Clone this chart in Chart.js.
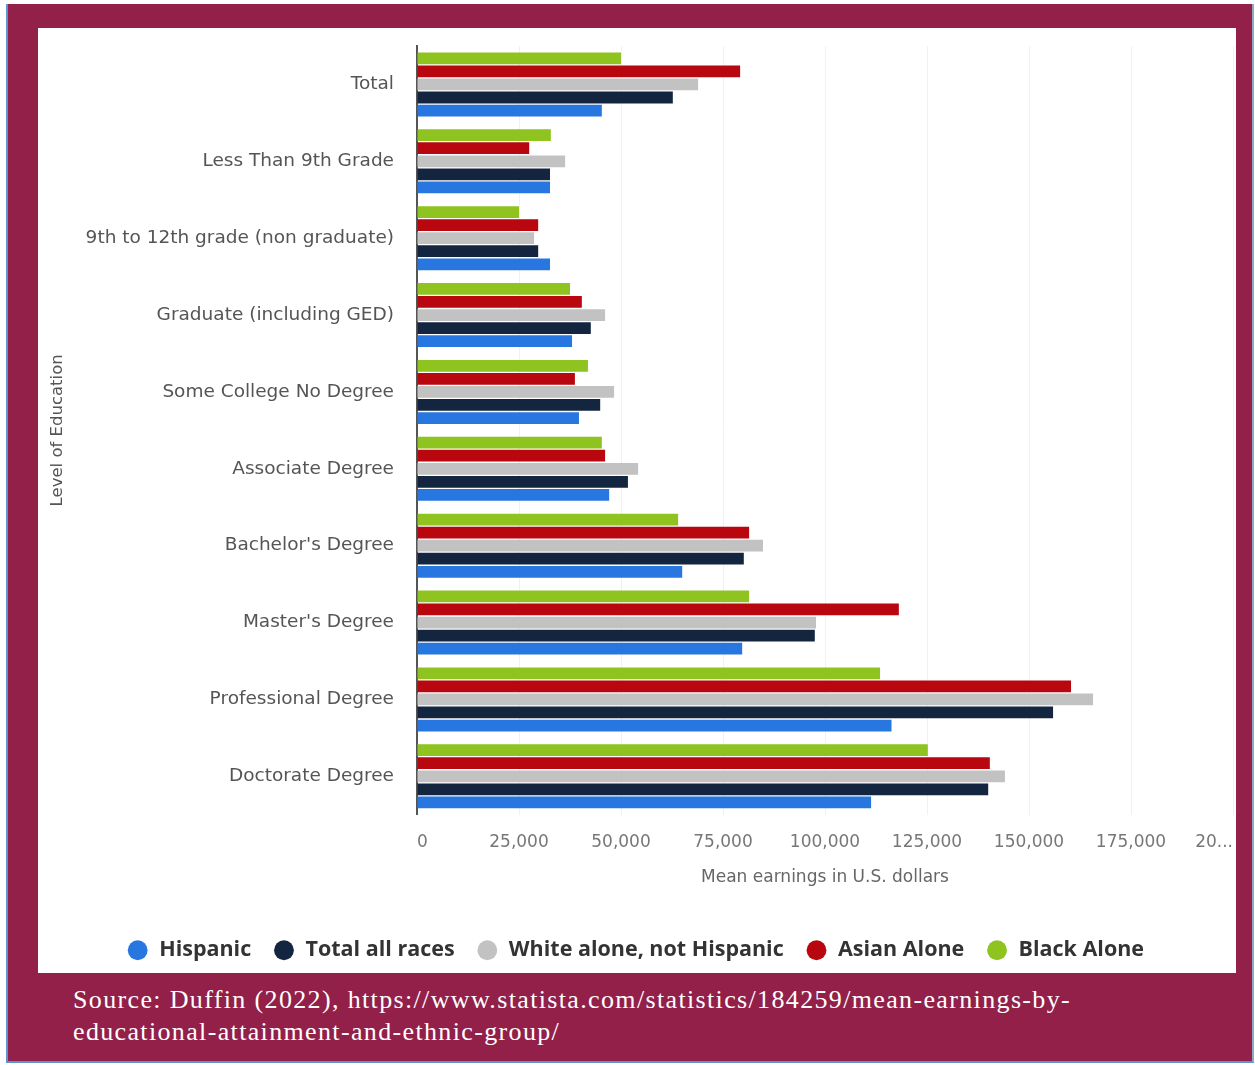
<!DOCTYPE html>
<html>
<head>
<meta charset="utf-8">
<script src="https://cdn.jsdelivr.net/npm/chart.js@4.4.1/dist/chart.umd.min.js"></script>
<style>
  html, body { margin: 0; padding: 0; background: #fff; }
  body { width: 1255px; height: 1065px; position: relative; overflow: hidden; }
  #frame {
    position: absolute; left: 6px; top: 4px; width: 1244px; height: 1057px;
    background: #922049;
    border-left: 2px solid #5f93cf; border-right: 2px solid #8fa9c9; border-bottom: 2px solid #5f93cf;
  }
  #panel {
    position: absolute; left: 38px; top: 28px; width: 1198px; height: 945px; background: #fff;
  }
  #source {
    position: absolute; left: 73px; top: 984px; width: 1170px;
    color: #fff; font-family: "Liberation Serif", serif; font-size: 26px; line-height: 32px;
    letter-spacing: 1.35px;
  }
</style>
</head>
<body>
<div id="frame"></div>
<div id="panel"><canvas id="myChart"></canvas></div>
<div id="source">Source: Duffin (2022), https://www.statista.com/statistics/184259/mean-earnings-by-<br>educational-attainment-and-ethnic-group/</div>
<script>
var levels = ["Total", "Less Than 9th Grade", "9th to 12th grade (non graduate)",
              "Graduate (including GED)", "Some College No Degree", "Associate Degree",
              "Bachelor's Degree", "Master's Degree", "Professional Degree", "Doctorate Degree"];

// mean earnings in U.S. dollars, one array per group
var blackAlone = [50000, 32800, 25000, 37500, 41900, 45300, 64000, 81400, 113500, 125200];
var asianAlone = [79200, 27500, 29700, 40400, 38700, 46100, 81400, 118100, 160300, 140400];
var whiteNotHispanic = [68900, 36300, 28700, 46100, 48300, 54200, 84800, 97800, 165700, 144100];
var totalAllRaces = [62700, 32600, 29700, 42600, 44900, 51700, 80100, 97500, 155900, 140000];
var hispanic = [45300, 32600, 32600, 38000, 39700, 47100, 65000, 79700, 116300, 111300];

var xTicks = [0, 25000, 50000, 75000, 100000, 125000, 150000, 175000, 200000];

// drawn top to bottom in each group; legend shows them reversed
var datasets = [
  {label: "Black Alone", data: blackAlone, backgroundColor: "#8fc320"},
  {label: "Asian Alone", data: asianAlone, backgroundColor: "#b8070e"},
  {label: "White alone, not Hispanic", data: whiteNotHispanic, backgroundColor: "#c2c2c2"},
  {label: "Total all races", data: totalAllRaces, backgroundColor: "#14263f"},
  {label: "Hispanic", data: hispanic, backgroundColor: "#2877e0"}
];
datasets.forEach(function (d) {
  d.categoryPercentage = 0.85;
  d.barPercentage = 0.9;
  d.pointStyle = "circle";
});

new Chart("myChart", {
  type: "bar",
  data: {labels: levels, datasets: datasets},
  options: {
    indexAxis: "y",
    responsive: true,
    maintainAspectRatio: false,
    animation: false,
    layout: {padding: {top: 18, right: 3, left: 0, bottom: 2}},
    scales: {
      x: {
        min: 0,
        max: 200000,
        afterBuildTicks: function (scale) {
          scale.ticks = xTicks.map(function (v) { return {value: v}; });
        },
        afterFit: function (scale) {
          scale.paddingRight = 0;
          scale.paddingLeft = 0;
        },
        ticks: {
          color: "#777",
          font: {family: "DejaVu Sans", size: 17},
          padding: 18,
          align: "inner",
          maxRotation: 0,
          callback: function (v) {
            if (v === 200000) return "20...";
            return v.toLocaleString("en-US");
          }
        },
        grid: {color: "#f1f1f1", drawTicks: false},
        border: {display: false},
        title: {
          display: true,
          text: "Mean earnings in U.S. dollars",
          color: "#666",
          font: {family: "DejaVu Sans", size: 17},
          padding: {top: -4, bottom: 30}
        }
      },
      y: {
        afterFit: function (scale) {
          scale.width = 379;
          scale.paddingTop = 0;
          scale.paddingBottom = 0;
        },
        ticks: {color: "#555", font: {family: "DejaVu Sans", size: 18.5}, padding: 15},
        grid: {display: false},
        border: {display: true, color: "#555", width: 2},
        title: {
          display: true,
          text: "Level of Education",
          color: "#555",
          font: {family: "DejaVu Sans", size: 16.5},
          padding: {top: 10, bottom: 0}
        }
      }
    },
    plugins: {
      legend: {
        position: "bottom",
        reverse: true,
        labels: {
          usePointStyle: true,
          boxWidth: 23,
          boxHeight: 14,
          padding: 22,
          color: "#333",
          font: {family: "Open Sans", size: 21.5, weight: "bold"}
        }
      },
      tooltip: {enabled: false}
    }
  }
});
</script>
</body>
</html>
